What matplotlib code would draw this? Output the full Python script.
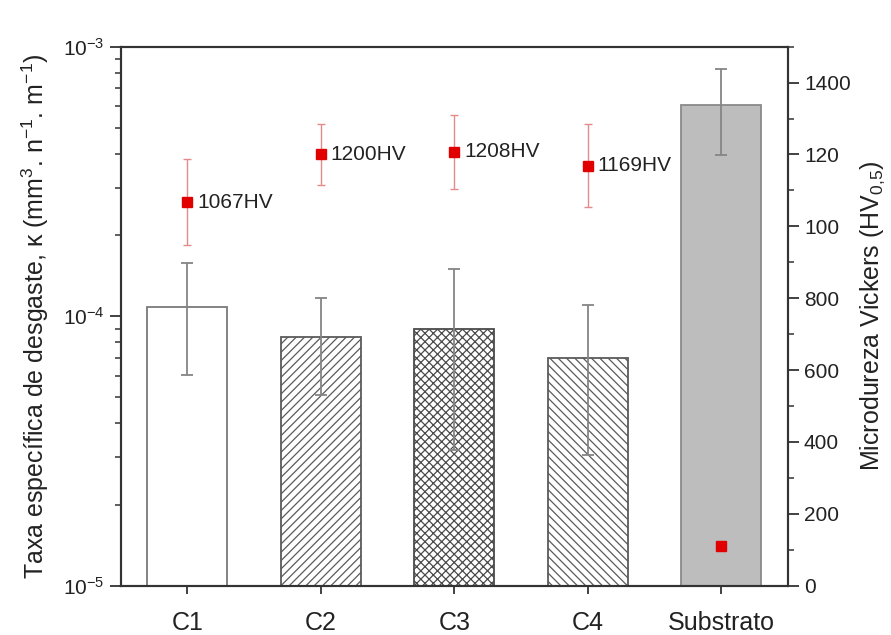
import matplotlib
matplotlib.use("Agg")
import matplotlib.pyplot as plt
import numpy as np
from matplotlib.ticker import FixedLocator, FixedFormatter, LogLocator, NullFormatter, MultipleLocator

plt.rcParams['font.family'] = ['Liberation Sans', 'DejaVu Sans']
plt.rcParams['mathtext.fontset'] = 'custom'
plt.rcParams['mathtext.rm'] = 'Liberation Sans'
plt.rcParams['mathtext.it'] = 'Liberation Sans:italic'
plt.rcParams['mathtext.default'] = 'regular'
plt.rcParams['hatch.linewidth'] = 0.9

# %% Data
samples = ["C1", "C2", "C3", "C4", "Substrato"]
wear_rate = [1.08e-4, 8.34e-5, 9.0e-5, 7.0e-5, 6.08e-4]
wear_low = [6.03e-5, 5.08e-5, 3.2e-5, 3.06e-5, 3.96e-4]
wear_high = [1.57e-4, 1.17e-4, 1.50e-4, 1.10e-4, 8.26e-4]

hardness = [1067, 1200, 1208, 1169, 111]
hardness_err = [120, 85, 103, 115, 0]
hardness_labels = ["1067HV", "1200HV", "1208HV", "1169HV", ""]

right_ticks = [0, 200, 400, 600, 800, 1000, 1200, 1400]
right_tick_labels = ["0", "200", "400", "600", "800", "100", "120", "1400"]

# %% Styles
hatches = ["", "////", "xxxx", "\\\\\\\\", ""]
faces = ["white", "white", "white", "white", "#bdbdbd"]
edges = ["#7a7a7a", "#5a5a5a", "#4a4a4a", "#5a5a5a", "#8a8a8a"]
axis_col = "#333333"
y_floor = 1e-5

# %% Plot
fig = plt.figure(figsize=(8.91, 6.35), dpi=100)
ax = fig.add_axes([0.1355, 0.0776, 0.7489, 0.8489])

x = np.arange(1, len(samples) + 1)
for i in range(len(samples)):
    # bars start at the bottom of the log axis
    ax.bar(x[i], wear_rate[i] - y_floor, width=0.6, bottom=y_floor, color=faces[i],
           edgecolor=edges[i], linewidth=1.3, hatch=hatches[i], zorder=2)

yerr = [np.array(wear_rate) - np.array(wear_low), np.array(wear_high) - np.array(wear_rate)]
ax.errorbar(x, wear_rate, yerr=yerr, fmt="none", ecolor="#858585",
            elinewidth=1.3, capsize=4, capthick=1.3, zorder=3)

ax.set_yscale("log")
ax.set_ylim(y_floor, 1e-3)
ax.set_xlim(0.5, 5.5)
ax.set_xticks(x)
ax.set_xticklabels(samples, fontsize=18)
ax.yaxis.set_major_locator(FixedLocator([1e-5, 1e-4, 1e-3]))
ax.yaxis.set_minor_locator(LogLocator(base=10, subs=np.arange(2, 10)))
ax.yaxis.set_minor_formatter(NullFormatter())
ax.tick_params(axis="y", which="major", labelsize=15, length=8, width=1.3, colors=axis_col, labelcolor="#222222")
ax.tick_params(axis="y", which="minor", length=4, width=1.1, colors=axis_col)
ax.tick_params(axis="x", length=6, width=1.3, colors=axis_col, labelcolor="#222222", pad=12)
ax.set_ylabel("Taxa específica de desgaste, κ (mm$^{3}$. n$^{-1}$. m$^{-1}$)",
              fontsize=18, color="#222222", labelpad=9)
for s in ax.spines.values():
    s.set_color(axis_col)
    s.set_linewidth(1.5)

# Hardness on right axis
ax2 = ax.twinx()
ax2.set_ylim(0, 1500)
ax2.errorbar(x[:4], hardness[:4], yerr=hardness_err[:4], fmt="none", ecolor="#e58a8a",
             elinewidth=1.0, capsize=3, capthick=1.0, zorder=3)
ax2.plot(x, hardness, "s", color="#e00000", markersize=7, zorder=4)
for i in range(len(samples)):
    if hardness_labels[i]:
        ax2.annotate(hardness_labels[i], (x[i], hardness[i]), xytext=(7, 0),
                     textcoords="offset points", va="center", ha="left",
                     fontsize=15, color="#222222")
ax2.yaxis.set_major_locator(FixedLocator(right_ticks))
ax2.yaxis.set_major_formatter(FixedFormatter(right_tick_labels))
ax2.yaxis.set_minor_locator(MultipleLocator(100))
ax2.tick_params(axis="y", which="major", labelsize=15, length=8, width=1.3, colors=axis_col, labelcolor="#222222")
ax2.tick_params(axis="y", which="minor", length=4, width=1.1, colors=axis_col)
ax2.set_ylabel("Microdureza Vickers (HV$_{0{,}5}$)", fontsize=18, color="#222222", labelpad=6)
for s in ax2.spines.values():
    s.set_color(axis_col)
    s.set_linewidth(1.5)

fig.savefig("out.png", dpi=100)
